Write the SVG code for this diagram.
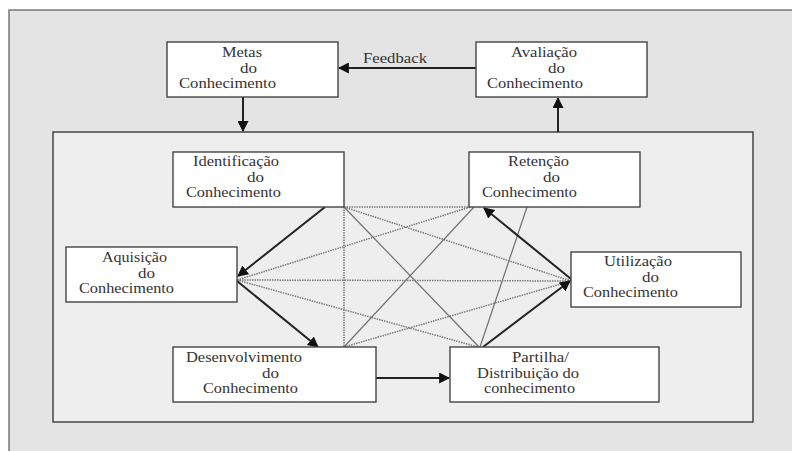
<svg xmlns="http://www.w3.org/2000/svg" width="792" height="451" viewBox="0 0 792 451">
<style>
.box{fill:#ffffff;stroke:#444;stroke-width:1.4}
.t{font-family:'Liberation Serif','DejaVu Serif','Times New Roman',serif;font-size:14px;fill:#333}
.arr{stroke:#222;stroke-width:2;fill:none}
.dot{stroke:#7a7a7a;stroke-width:1.5;stroke-dasharray:1.5 1;fill:none}
.thin{stroke:#707070;stroke-width:1.2;fill:none}
</style>
<defs>
<marker id="ah" viewBox="0 0 10 10" refX="9" refY="5" markerWidth="5.5" markerHeight="5.5" orient="auto" markerUnits="strokeWidth">
<path d="M0,0 L10,5 L0,10 z" fill="#111"/>
</marker>
</defs>
<rect x="0" y="0" width="792" height="451" fill="#ffffff"/>
<rect id="outer" x="9" y="10" width="800" height="460" fill="#e4e4e4" stroke="#777" stroke-width="1.5"/>
<rect id="inner" x="53" y="132" width="700" height="290" fill="#eeeeee" stroke="#444" stroke-width="1.5"/>

<g id="connectors">
<line class="dot" x1="344" y1="207" x2="469" y2="207"/>
<line class="dot" x1="344" y1="207" x2="344" y2="347"/>
<line class="dot" x1="344" y1="207" x2="571" y2="281"/>
<line class="thin" x1="344" y1="207" x2="479" y2="347"/>
<line class="dot" x1="470" y1="207" x2="237" y2="280"/>
<line class="thin" x1="474" y1="207" x2="344" y2="347"/>
<line class="thin" x1="527" y1="207" x2="480" y2="347"/>
<line class="dot" x1="237" y1="280" x2="571" y2="281"/>
<line class="dot" x1="237" y1="280" x2="478" y2="347"/>
<line class="dot" x1="344" y1="347" x2="571" y2="281"/>
<line class="arr" x1="325" y1="207" x2="238" y2="276" marker-end="url(#ah)"/>
<line class="arr" x1="237" y1="281" x2="318" y2="347" marker-end="url(#ah)"/>
<line class="arr" x1="376" y1="378" x2="449" y2="378" marker-end="url(#ah)"/>
<line class="arr" x1="483" y1="347" x2="570" y2="281" marker-end="url(#ah)"/>
<line class="arr" x1="571" y1="279" x2="484" y2="208" marker-end="url(#ah)"/>
<line class="arr" x1="476" y1="68" x2="339" y2="68" marker-end="url(#ah)"/>
<line class="arr" x1="243" y1="97" x2="243" y2="131" marker-end="url(#ah)"/>
<line class="arr" x1="558" y1="132" x2="558" y2="98" marker-end="url(#ah)"/>
<text class="t" x="363" y="63" textLength="64" lengthAdjust="spacingAndGlyphs">Feedback</text>
</g>

<g id="metas">
<rect class="box" x="167" y="42" width="171" height="55"/>
<text class="t" x="222" y="57" textLength="40" lengthAdjust="spacingAndGlyphs">Metas</text>
<text class="t" x="240" y="72.5" textLength="17" lengthAdjust="spacingAndGlyphs">do</text>
<text class="t" x="179" y="88" textLength="97" lengthAdjust="spacingAndGlyphs">Conhecimento</text>
</g>
<g id="avaliacao">
<rect class="box" x="476" y="42" width="171" height="55"/>
<text class="t" x="511" y="57" textLength="66" lengthAdjust="spacingAndGlyphs">Avaliação</text>
<text class="t" x="548" y="72.5" textLength="17" lengthAdjust="spacingAndGlyphs">do</text>
<text class="t" x="487" y="88" textLength="96" lengthAdjust="spacingAndGlyphs">Conhecimento</text>
</g>
<g id="identificacao">
<rect class="box" x="173" y="152" width="171" height="55"/>
<text class="t" x="193" y="166" textLength="86" lengthAdjust="spacingAndGlyphs">Identificação</text>
<text class="t" x="247" y="181.5" textLength="17" lengthAdjust="spacingAndGlyphs">do</text>
<text class="t" x="186" y="197" textLength="95" lengthAdjust="spacingAndGlyphs">Conhecimento</text>
</g>
<g id="retencao">
<rect class="box" x="469" y="152" width="171" height="55"/>
<text class="t" x="508" y="166" textLength="61" lengthAdjust="spacingAndGlyphs">Retenção</text>
<text class="t" x="543" y="181.5" textLength="17" lengthAdjust="spacingAndGlyphs">do</text>
<text class="t" x="482" y="197" textLength="95" lengthAdjust="spacingAndGlyphs">Conhecimento</text>
</g>
<g id="aquisicao">
<rect class="box" x="66" y="247" width="171" height="55"/>
<text class="t" x="102" y="262" textLength="65" lengthAdjust="spacingAndGlyphs">Aquisição</text>
<text class="t" x="138" y="277.5" textLength="17" lengthAdjust="spacingAndGlyphs">do</text>
<text class="t" x="79" y="293" textLength="95" lengthAdjust="spacingAndGlyphs">Conhecimento</text>
</g>
<g id="utilizacao">
<rect class="box" x="571" y="252" width="170" height="55"/>
<text class="t" x="604" y="266" textLength="68" lengthAdjust="spacingAndGlyphs">Utilização</text>
<text class="t" x="642" y="281.5" textLength="17" lengthAdjust="spacingAndGlyphs">do</text>
<text class="t" x="583" y="297" textLength="95" lengthAdjust="spacingAndGlyphs">Conhecimento</text>
</g>
<g id="desenvolvimento">
<rect class="box" x="173" y="347" width="203" height="55"/>
<text class="t" x="186" y="362" textLength="116" lengthAdjust="spacingAndGlyphs">Desenvolvimento</text>
<text class="t" x="262" y="377.5" textLength="17" lengthAdjust="spacingAndGlyphs">do</text>
<text class="t" x="203" y="393" textLength="95" lengthAdjust="spacingAndGlyphs">Conhecimento</text>
</g>
<g id="partilha">
<rect class="box" x="450" y="347" width="209" height="55"/>
<text class="t" x="512" y="362" textLength="57" lengthAdjust="spacingAndGlyphs">Partilha/</text>
<text class="t" x="477" y="377.5" textLength="102" lengthAdjust="spacingAndGlyphs">Distribuição do</text>
<text class="t" x="484" y="393" textLength="91" lengthAdjust="spacingAndGlyphs">conhecimento</text>
</g>
</svg>
